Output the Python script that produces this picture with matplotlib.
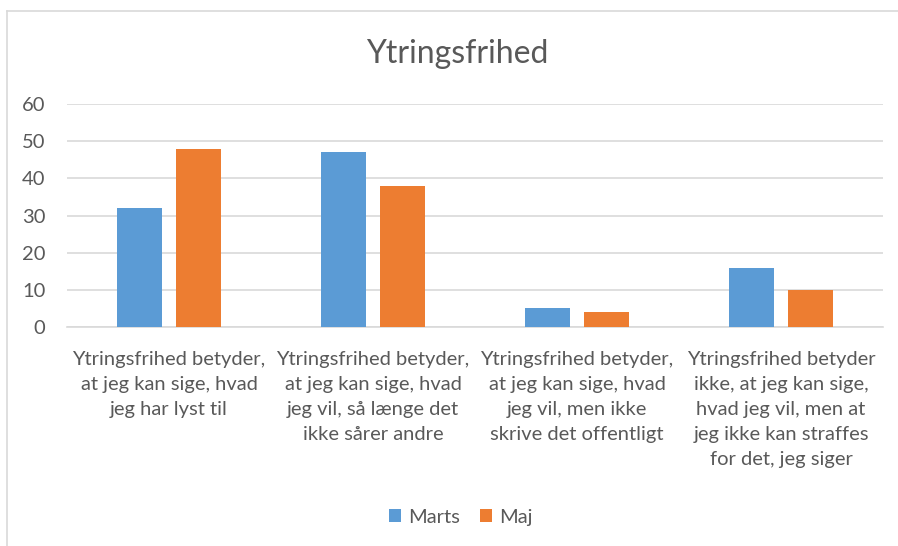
import numpy as np
import matplotlib.pyplot as plt
from matplotlib.lines import Line2D

plt.rcParams['font.family'] = ['Lato', 'DejaVu Sans']

# =====data
categories = [
    "Ytringsfrihed betyder,\nat jeg kan sige, hvad\njeg har lyst til",
    "Ytringsfrihed betyder,\nat jeg kan sige, hvad\njeg vil, så længe det\nikke sårer andre",
    "Ytringsfrihed betyder,\nat jeg kan sige, hvad\njeg vil, men ikke\nskrive det offentligt",
    "Ytringsfrihed betyder\nikke, at jeg kan sige,\nhvad jeg vil, men at\njeg ikke kan straffes\nfor det, jeg siger",
]
marts = [32, 47, 5, 16]
maj = [48, 38, 4, 10]
yticks = [0, 10, 20, 30, 40, 50, 60]

txt = "#595959"
fig = plt.figure(figsize=(8.98, 5.46), dpi=100)
ax = fig.add_axes([0.0746, 0.4011, 0.9087, 0.4084])

x = np.arange(len(categories))
w = 0.225
gap = 0.064
ax.bar(x - (w + gap) / 2, marts, w, color="#5B9BD5", label="Marts", zorder=3)
ax.bar(x + (w + gap) / 2, maj, w, color="#ED7D31", label="Maj", zorder=3)

ax.set_xlim(-0.5, len(categories) - 0.5)
ax.set_ylim(0, 60)
ax.set_yticks(yticks)
ax.yaxis.grid(True, color="#D9D9D9", lw=1.2, zorder=0)
for s in ["top", "right", "left"]:
    ax.spines[s].set_visible(False)
ax.spines["bottom"].set_color("#D9D9D9")
ax.spines["bottom"].set_linewidth(1.2)
ax.tick_params(axis="both", length=0, colors=txt, labelsize=14.5)
ax.tick_params(axis="y", pad=15.5)
ax.tick_params(axis="x", pad=17)
ax.set_xticks(x)
ax.set_xticklabels(categories, linespacing=1.58)

fig.text(0.509, 0.902, "Ytringsfrihed", ha="center", va="center", fontsize=23, color=txt)

ax.legend(loc="center", bbox_to_anchor=(0.513, 0.053), bbox_transform=fig.transFigure,
          ncol=2, frameon=False, fontsize=14.5, labelcolor=txt,
          handlelength=0.6, handleheight=0.6, handletextpad=0.35, columnspacing=1.0)

# chart frame (left + top edges)
fig.add_artist(Line2D([7 / 898, 7 / 898], [0, 1 - 11 / 546], color="#D9D9D9", lw=1.2))
fig.add_artist(Line2D([7 / 898, 1], [1 - 11 / 546, 1 - 11 / 546], color="#D9D9D9", lw=1.2))

fig.savefig("out.png", dpi=100)
